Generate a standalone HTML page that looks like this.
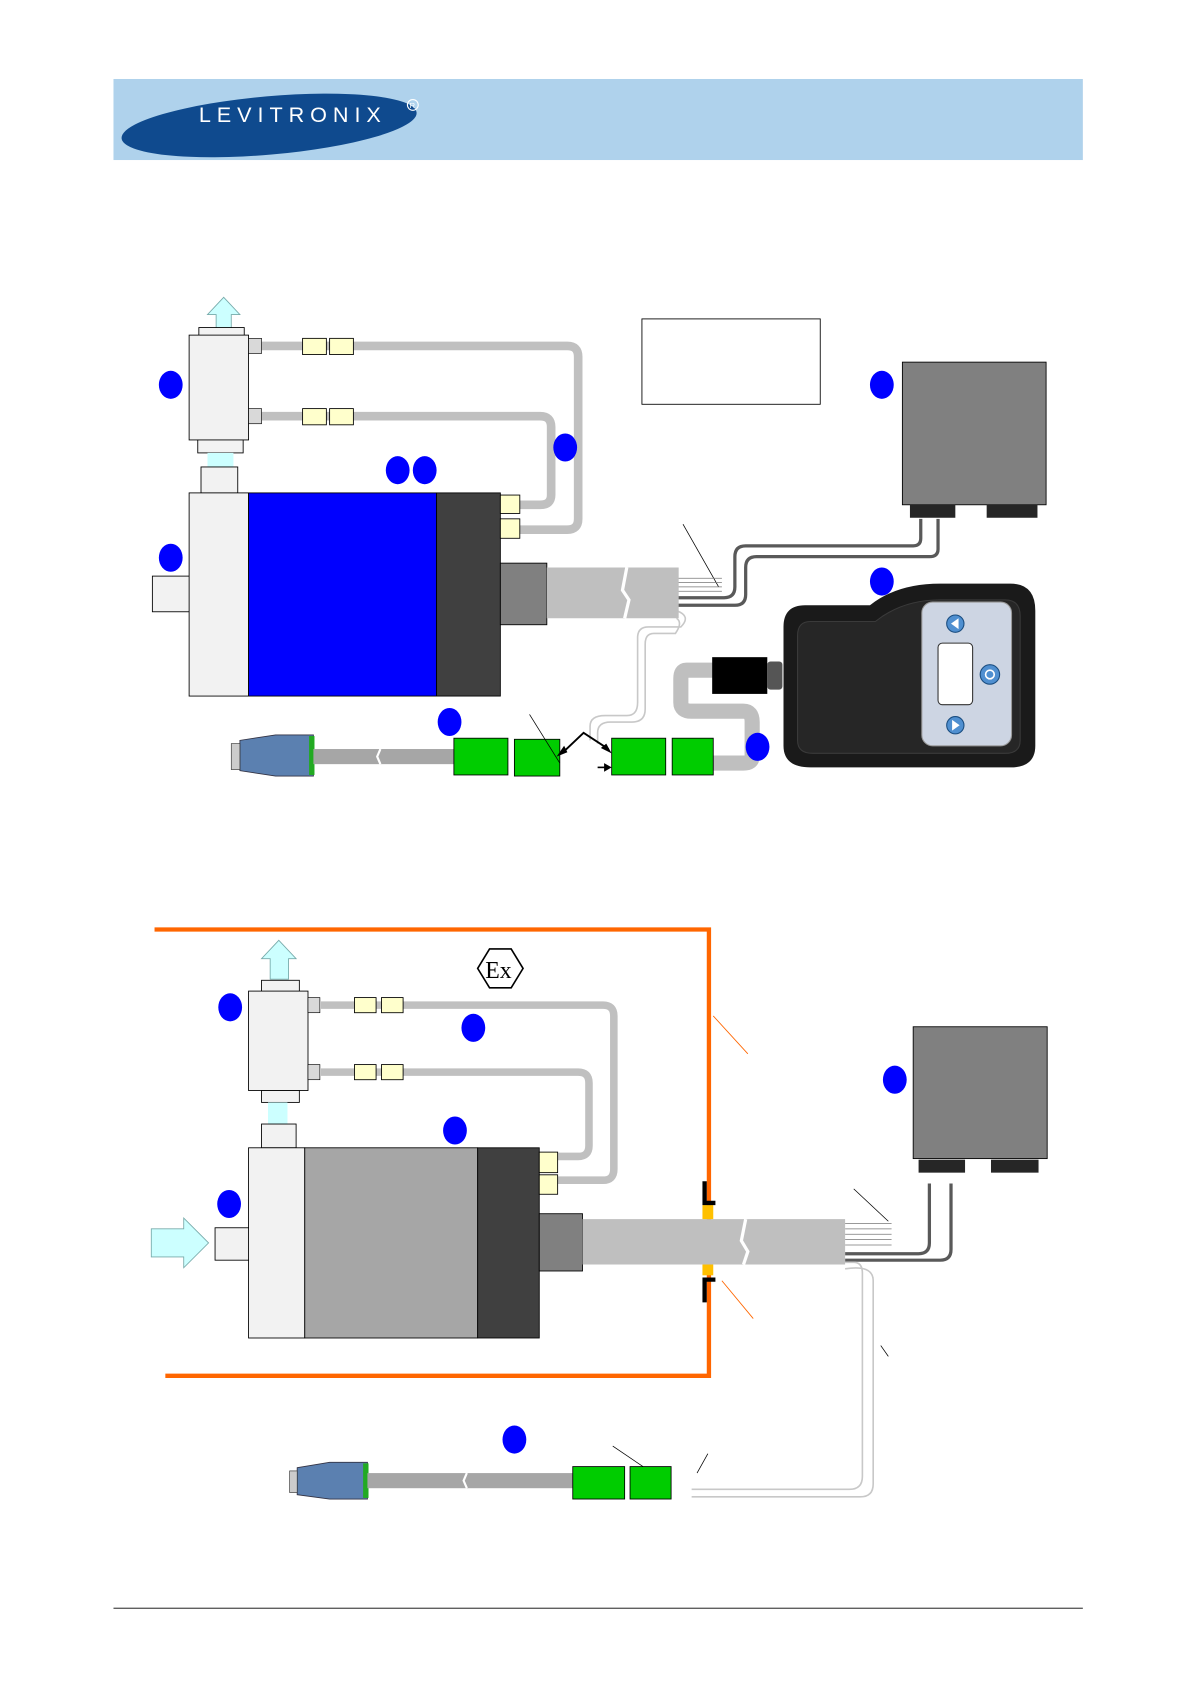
<!DOCTYPE html>
<html><head><meta charset="utf-8"><style>html,body{margin:0;padding:0;background:#fff}svg{display:block}</style></head><body>
<svg width="1192" height="1685" viewBox="0 0 1103 1559" xmlns="http://www.w3.org/2000/svg" font-family="Liberation Sans, sans-serif">
<rect width="1103" height="1559" fill="#fff"/>
<!-- header -->
<rect x="105" y="73" width="897" height="75" fill="#afd2ec"/>
<ellipse cx="249" cy="116" rx="137" ry="27" transform="rotate(-5 249 116)" fill="#0f4a8e"/>
<text x="184" y="113" fill="#fff" font-size="20" letter-spacing="5.5">LEVITRONIX</text>
<circle cx="382" cy="97" r="5" fill="none" stroke="#fff" stroke-width="1"/>
<text x="379" y="100" fill="#fff" font-size="7">R</text>

<!-- ===== TOP DIAGRAM ===== -->
<g stroke="#c0c0c0" stroke-width="8" fill="none">
<path d="M242 320 H525 Q535 320 535 330 V480 Q535 490 525 490 H480"/>
<path d="M242 385 H500 Q510 385 510 395 V458 Q510 467 500 467 H480"/>
</g>
<polygon points="207,275 222,291 214,291 214,308 200,308 200,291 192,291" fill="#ccffff" stroke="#7aa" stroke-width="0.8"/>
<rect x="184" y="303" width="42" height="9" fill="#f2f2f2" stroke="#000" stroke-width="0.8"/>
<rect x="175" y="310" width="55" height="97" fill="#f2f2f2" stroke="#000" stroke-width="0.8"/>
<rect x="230" y="313" width="12" height="14" fill="#d9d9d9" stroke="#000" stroke-width="0.6"/>
<rect x="230" y="378" width="12" height="14" fill="#d9d9d9" stroke="#000" stroke-width="0.6"/>
<rect x="280" y="313" width="22" height="15" fill="#ffffcc" stroke="#000" stroke-width="0.8"/>
<rect x="305" y="313" width="22" height="15" fill="#ffffcc" stroke="#000" stroke-width="0.8"/>
<rect x="280" y="378" width="22" height="15" fill="#ffffcc" stroke="#000" stroke-width="0.8"/>
<rect x="305" y="378" width="22" height="15" fill="#ffffcc" stroke="#000" stroke-width="0.8"/>
<rect x="183" y="407" width="42" height="12" fill="#f2f2f2" stroke="#000" stroke-width="0.8"/>
<rect x="192" y="419" width="24" height="13" fill="#ccffff"/>
<rect x="186" y="432" width="34" height="24" fill="#f2f2f2" stroke="#000" stroke-width="0.8"/>
<rect x="141" y="533" width="35" height="33" fill="#f2f2f2" stroke="#000" stroke-width="0.8"/>
<rect x="175" y="456" width="55" height="188" fill="#f2f2f2" stroke="#000" stroke-width="0.8"/>
<rect x="230" y="456" width="174" height="188" fill="#0000ff" stroke="#000" stroke-width="0.8"/>
<rect x="404" y="456" width="59" height="188" fill="#404040" stroke="#000" stroke-width="0.8"/>
<rect x="463" y="458" width="18" height="17" fill="#ffffcc" stroke="#000" stroke-width="0.8"/>
<rect x="463" y="480" width="18" height="18" fill="#ffffcc" stroke="#000" stroke-width="0.8"/>
<!-- wires to box -->
<g fill="none" stroke-width="3">
<path d="M626 553 H670 Q680 553 680 543 V515 Q680 505 690 505 H845 Q852 505 852 498 V480" stroke="#595959"/>
<path d="M626 560 H680 Q690 560 690 550 V525 Q690 515 700 515 H860 Q868 515 868 508 V480" stroke="#595959"/>
</g>
<path d="M632 485 L665 543" stroke="#000" stroke-width="0.7"/>
<g stroke="#777" stroke-width="0.7"><line x1="626" y1="535" x2="668" y2="535"/><line x1="626" y1="539" x2="668" y2="539"/><line x1="626" y1="543" x2="668" y2="543"/><line x1="626" y1="547" x2="668" y2="547"/></g>
<!-- white cable down -->
<g fill="none" stroke="#c8c8c8" stroke-width="1.5">
<path d="M626 565 Q640 570 630 580 H600 Q590 580 590 590 V650 Q590 662 580 662 H560 Q546 662 546 672 V685"/>
<path d="M626 572 Q632 576 625 586 H605 Q597 586 597 596 V656 Q597 668 585 668 H565 Q553 668 553 678 V688"/>
</g>
<rect x="463" y="521" width="43" height="57" fill="#808080" stroke="#000" stroke-width="0.8"/>
<polygon points="506,525 628,525 628,572 506,572" fill="#bfbfbf"/>
<path d="M580 525 L576 546 L582 555 L578 572" stroke="#fff" stroke-width="3" fill="none"/>
<rect x="594" y="295" width="165" height="79" fill="#fff" stroke="#000" stroke-width="0.8"/>
<rect x="835" y="335" width="133" height="132" fill="#808080" stroke="#000" stroke-width="0.8"/>
<rect x="842" y="467" width="42" height="12" fill="#262626"/>
<rect x="913" y="467" width="47" height="12" fill="#262626"/>
<!-- S cable -->
<path d="M665 620 H635 Q630 620 630 628 V650 Q630 658 640 658 H688 Q696 658 696 668 V700 Q696 706 688 706 H660" stroke="#bfbfbf" stroke-width="14" fill="none"/>
<rect x="659" y="608" width="51" height="34" fill="#000"/>
<rect x="710" y="612" width="14" height="26" fill="#555" rx="3"/>
<!-- handheld -->
<path d="M745 560 L805 560 Q830 540 870 540 L935 540 Q958 540 958 565 L958 690 Q958 710 935 710 L750 710 Q725 710 725 690 L725 580 Q725 560 745 560Z" fill="#1a1a1a"/>
<path d="M750 575 L810 575 Q835 555 870 555 L930 555 Q944 555 944 570 L944 685 Q944 697 930 697 L752 697 Q738 697 738 685 L738 588 Q738 575 750 575Z" fill="#262626" stroke="#3a3a3a"/>
<rect x="853" y="557" width="83" height="133" rx="10" fill="#cdd5e3" stroke="#999"/>
<rect x="868" y="595" width="32" height="57" rx="4" fill="#fff" stroke="#333"/>
<circle cx="884" cy="577" r="8" fill="#4f8fd0" stroke="#1a4d80"/>
<polygon points="880,577 887,572 887,582" fill="#fff"/>
<circle cx="884" cy="671" r="8" fill="#4f8fd0" stroke="#1a4d80"/>
<polygon points="888,671 881,666 881,676" fill="#fff"/>
<circle cx="916" cy="624" r="9" fill="#4f8fd0" stroke="#1a4d80"/>
<circle cx="916" cy="624" r="4" fill="none" stroke="#fff" stroke-width="1.5"/>
<!-- bottom row -->
<polygon points="222,685 255,680 290,680 290,718 255,718 222,713" fill="#5b80b0" stroke="#334" stroke-width="0.8"/>
<rect x="214" y="688" width="8" height="24" fill="#ccc" stroke="#333" stroke-width="0.6"/>
<rect x="286" y="681" width="5" height="36" fill="#22aa22"/>
<rect x="290" y="693" width="130" height="14" fill="#a6a6a6"/>
<path d="M352 693 L349 700 L352 707" stroke="#fff" stroke-width="2" fill="none"/>
<rect x="420" y="683" width="50" height="34" fill="#00cc00" stroke="#000" stroke-width="0.8"/>
<rect x="476" y="684" width="42" height="34" fill="#00cc00" stroke="#000" stroke-width="0.8"/>
<rect x="566" y="683" width="50" height="34" fill="#00cc00" stroke="#000" stroke-width="0.8"/>
<rect x="622" y="683" width="38" height="34" fill="#00cc00" stroke="#000" stroke-width="0.8"/>
<path d="M520 697 L540 678 L563 693" stroke="#000" stroke-width="1.8" fill="none"/>
<polygon points="515,700 522,690 525,696" fill="#000"/>
<polygon points="566,697 556,692 561,688" fill="#000"/>
<path d="M553 710 H563" stroke="#000" stroke-width="1.5"/><polygon points="566,710 559,706 559,714" fill="#000"/>
<path d="M490 661 L518 706" stroke="#000" stroke-width="0.7"/>
<g fill="#0000ff">
<ellipse cx="158" cy="356" rx="11" ry="13"/><ellipse cx="158" cy="516" rx="11" ry="13"/>
<ellipse cx="368" cy="435" rx="11" ry="13"/><ellipse cx="393" cy="435" rx="11" ry="13"/>
<ellipse cx="523" cy="414" rx="11" ry="13"/><ellipse cx="816" cy="356" rx="11" ry="13"/>
<ellipse cx="816" cy="538" rx="11" ry="13"/><ellipse cx="416" cy="668" rx="11" ry="13"/>
<ellipse cx="701" cy="691" rx="11" ry="13"/>
</g>

<!-- ===== BOTTOM DIAGRAM ===== -->
<path d="M143 860 H656 V1273 H153" stroke="#ff6600" stroke-width="4" fill="none"/>
<polygon points="453,878 473,878 484,896 473,914 453,914 442,896" fill="#fff" stroke="#000" stroke-width="1.5"/>
<text x="449" y="905" font-size="22" font-family="Liberation Serif, serif">Ex</text>
<g stroke="#c0c0c0" stroke-width="7" fill="none">
<path d="M297 930 H558 Q568 930 568 940 V1082 Q568 1092 558 1092 H515"/>
<path d="M297 992 H535 Q545 992 545 1002 V1060 Q545 1070 535 1070 H515"/>
</g>
<polygon points="258,870 274,887 267,887 267,906 250,906 250,887 242,887" fill="#ccffff" stroke="#7aa" stroke-width="0.8"/>
<rect x="242" y="907" width="35" height="11" fill="#f2f2f2" stroke="#000" stroke-width="0.8"/>
<rect x="230" y="917" width="55" height="92" fill="#f2f2f2" stroke="#000" stroke-width="0.8"/>
<rect x="285" y="923" width="11" height="14" fill="#d9d9d9" stroke="#000" stroke-width="0.6"/>
<rect x="285" y="985" width="11" height="14" fill="#d9d9d9" stroke="#000" stroke-width="0.6"/>
<rect x="328" y="923" width="20" height="14" fill="#ffffcc" stroke="#000" stroke-width="0.8"/>
<rect x="353" y="923" width="20" height="14" fill="#ffffcc" stroke="#000" stroke-width="0.8"/>
<rect x="328" y="985" width="20" height="14" fill="#ffffcc" stroke="#000" stroke-width="0.8"/>
<rect x="353" y="985" width="20" height="14" fill="#ffffcc" stroke="#000" stroke-width="0.8"/>
<rect x="242" y="1009" width="35" height="11" fill="#f2f2f2" stroke="#000" stroke-width="0.8"/>
<rect x="248" y="1020" width="18" height="20" fill="#ccffff"/>
<rect x="242" y="1040" width="32" height="22" fill="#f2f2f2" stroke="#000" stroke-width="0.8"/>
<polygon points="140,1137 170,1137 170,1127 193,1150 170,1173 170,1163 140,1163" fill="#ccffff" stroke="#7aa" stroke-width="0.8"/>
<rect x="199" y="1136" width="32" height="30" fill="#f2f2f2" stroke="#000" stroke-width="0.8"/>
<rect x="230" y="1062" width="52" height="176" fill="#f2f2f2" stroke="#000" stroke-width="0.8"/>
<rect x="282" y="1062" width="160" height="176" fill="#a6a6a6" stroke="#000" stroke-width="0.8"/>
<rect x="442" y="1062" width="57" height="176" fill="#404040" stroke="#000" stroke-width="0.8"/>
<rect x="499" y="1066" width="17" height="19" fill="#ffffcc" stroke="#000" stroke-width="0.8"/>
<rect x="499" y="1087" width="17" height="18" fill="#ffffcc" stroke="#000" stroke-width="0.8"/>
<g fill="none" stroke-width="3" stroke="#595959">
<path d="M782 1160 H850 Q860 1160 860 1150 V1095"/>
<path d="M782 1166 H870 Q880 1166 880 1156 V1095"/>
</g>
<g stroke="#777" stroke-width="0.7"><line x1="782" y1="1132" x2="825" y2="1132"/><line x1="782" y1="1137" x2="825" y2="1137"/><line x1="782" y1="1142" x2="825" y2="1142"/><line x1="782" y1="1147" x2="825" y2="1147"/><line x1="782" y1="1152" x2="825" y2="1152"/></g>
<path d="M790 1100 L822 1130" stroke="#000" stroke-width="0.7"/>
<g fill="none" stroke="#c8c8c8" stroke-width="1.5">
<path d="M782 1168 H790 Q798 1168 798 1178 V1366 Q798 1378 786 1378 H640"/>
<path d="M782 1174 Q808 1170 808 1185 V1373 Q808 1385 796 1385 H640"/>
</g>
<rect x="499" y="1123" width="40" height="53" fill="#808080" stroke="#000" stroke-width="0.8"/>
<rect x="539" y="1128" width="243" height="42" fill="#bfbfbf"/>
<path d="M690 1128 L686 1148 L692 1158 L688 1170" stroke="#fff" stroke-width="3" fill="none"/>
<rect x="650" y="1115" width="10" height="13" fill="#ffc000"/>
<rect x="650" y="1170" width="10" height="10" fill="#ffc000"/>
<path d="M652 1093 V1113 H662" stroke="#000" stroke-width="4" fill="none"/>
<path d="M652 1205 V1184 H662" stroke="#000" stroke-width="4" fill="none"/>
<path d="M660 940 L692 975 M668 1185 L697 1220" stroke="#ff6600" stroke-width="0.8"/>
<path d="M815 1245 L822 1255" stroke="#000" stroke-width="0.7"/>
<rect x="845" y="950" width="124" height="122" fill="#808080" stroke="#000" stroke-width="0.8"/>
<rect x="850" y="1073" width="43" height="12" fill="#262626"/>
<rect x="917" y="1073" width="44" height="12" fill="#262626"/>
<polygon points="275,1358 305,1353 340,1353 340,1387 305,1387 275,1383" fill="#5b80b0" stroke="#334" stroke-width="0.8"/>
<rect x="268" y="1361" width="7" height="20" fill="#ccc" stroke="#333" stroke-width="0.6"/>
<rect x="336" y="1354" width="5" height="32" fill="#22aa22"/>
<rect x="340" y="1363" width="190" height="14" fill="#a6a6a6"/>
<path d="M432 1363 L429 1370 L432 1377" stroke="#fff" stroke-width="2" fill="none"/>
<rect x="530" y="1357" width="48" height="30" fill="#00cc00" stroke="#000" stroke-width="0.8"/>
<rect x="583" y="1357" width="38" height="30" fill="#00cc00" stroke="#000" stroke-width="0.8"/>
<path d="M567 1338 L595 1357 M655 1345 L645 1363" stroke="#000" stroke-width="0.7"/>
<g fill="#0000ff">
<ellipse cx="213" cy="932" rx="11" ry="13"/><ellipse cx="438" cy="951" rx="11" ry="13"/>
<ellipse cx="421" cy="1046" rx="11" ry="13"/><ellipse cx="212" cy="1114" rx="11" ry="13"/>
<ellipse cx="828" cy="999" rx="11" ry="13"/><ellipse cx="476" cy="1332" rx="11" ry="13"/>
</g>
<line x1="105" y1="1488" x2="1002" y2="1488" stroke="#000" stroke-width="0.8"/>
</svg>
</body></html>
